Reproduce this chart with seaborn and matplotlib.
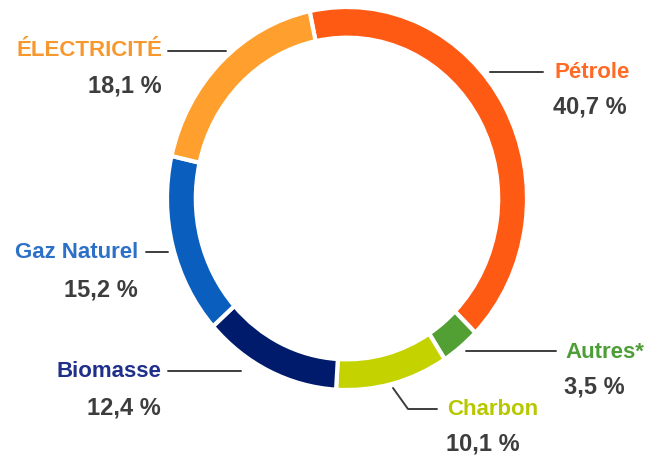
import matplotlib
matplotlib.use("Agg")
import matplotlib.pyplot as plt
from matplotlib.lines import Line2D
import seaborn as sns

# Data (clockwise from the top)
sources = ["Pétrole", "Autres*", "Charbon", "Biomasse", "Gaz Naturel", "ÉLECTRICITÉ"]
shares = [40.7, 3.5, 10.1, 12.4, 15.2, 18.1]
share_labels = ["40,7 %", "3,5 %", "10,1 %", "12,4 %", "15,2 %", "18,1 %"]
wedge_colors = ["#ff5a14", "#52a034", "#c4d300", "#001a6c", "#0a5fbe", "#ff9f2e"]
text_colors = ["#ff6a26", "#4e9e38", "#b7c800", "#1f2f8a", "#2c70c8", "#f7982f"]

sns.set_theme(style="white")
plt.rcParams["font.family"] = ["Liberation Sans", "DejaVu Sans"]

W, H = 646, 460
fig = plt.figure(figsize=(W / 100, H / 100), dpi=100)
fig.patch.set_facecolor("white")


def fx(x):
    return x / W


def fy(y):
    return 1 - y / H


# pie axes covering the ring's bounding box (slightly taller than wide)
left, top, right, bottom = 167, 8, 527, 391
ax = fig.add_axes([fx(left), fy(bottom), fx(right - left), (bottom - top) / H])
ax.pie(shares, colors=wedge_colors, startangle=102, counterclock=False,
       radius=1, wedgeprops=dict(width=0.16, edgecolor="white", linewidth=3))
ax.set_aspect("auto")
ax.set_xlim(-1, 1)
ax.set_ylim(-1, 1)
ax.axis("off")

# label layout: (name x, name y, ha, pct x, pct y, leader line points)
layout = {
    "Pétrole": (555, 73, "left", 553, 107, [(490, 73), (543, 73)]),
    "Autres*": (565, 352, "left", 564, 387, [(466, 352), (556, 352)]),
    "Charbon": (447, 410, "left", 446, 444, [(393, 389), (408, 410), (437, 410)]),
    "Biomasse": (161, 372, "right", 161, 408, [(168, 372), (241, 372)]),
    "Gaz Naturel": (138, 253, "right", 138, 290, [(146, 253), (168, 253)]),
    "ÉLECTRICITÉ": (162, 51, "right", 162, 86, [(168, 52), (226, 52)]),
}

for name, pct, tcol in zip(sources, share_labels, text_colors):
    nx, ny, ha, px, py, pts = layout[name]
    fig.text(fx(nx), fy(ny), name, ha=ha, va="center", color=tcol,
             fontsize=16, fontweight="bold")
    fig.text(fx(px), fy(py), pct, ha=ha, va="center", color="#3d3d3d",
             fontsize=17, fontweight="bold")
    fig.add_artist(Line2D([fx(p[0]) for p in pts], [fy(p[1]) for p in pts],
                          color="#3d3d3d", linewidth=1.4,
                          transform=fig.transFigure))

fig.savefig("out.png", dpi=100, facecolor="white")
